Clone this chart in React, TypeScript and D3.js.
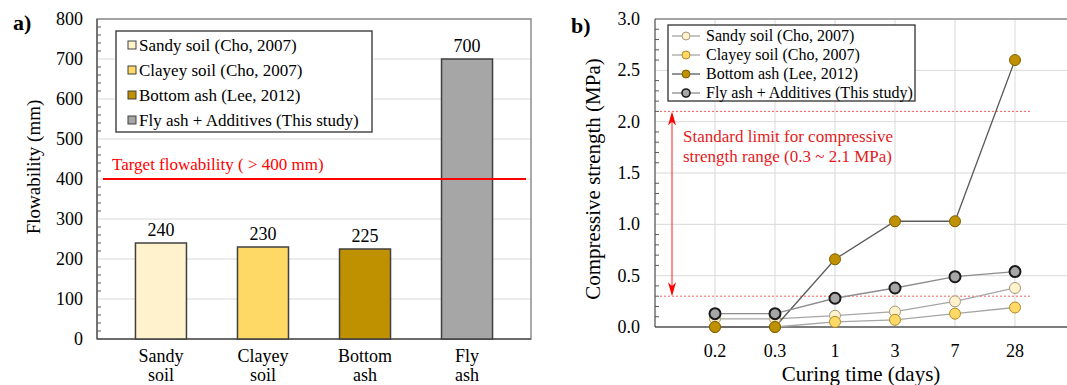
import React from 'react';
import * as d3 from 'd3';

// Flowability (panel a)
const barCategories = ['Sandy soil', 'Clayey soil', 'Bottom ash', 'Fly ash'];
const barLabelLines = [['Sandy', 'soil'], ['Clayey', 'soil'], ['Bottom', 'ash'], ['Fly', 'ash']];
const flowValues = [240, 230, 225, 700];
const flowTicks = [0, 100, 200, 300, 400, 500, 600, 700, 800];
const targetFlow = 400;

// Compressive strength (panel b)
const curingDays = ['0.2', '0.3', '1', '3', '7', '28'];
const sandyStrength = [0.08, 0.08, 0.11, 0.15, 0.25, 0.38];
const clayeyStrength = [0, 0, 0.05, 0.07, 0.13, 0.19];
const bottomStrength = [0, 0, 0.66, 1.03, 1.03, 2.6];
const flyStrength = [0.13, 0.13, 0.28, 0.38, 0.49, 0.54];
const strengthTicks = [0, 0.5, 1.0, 1.5, 2.0, 2.5, 3.0];
const strengthLimits = [0.3, 2.1];

const legendLabels = [
  'Sandy soil (Cho, 2007)',
  'Clayey soil (Cho, 2007)',
  'Bottom ash (Lee, 2012)',
  'Fly ash + Additives (This study)',
];
const fillColors = ['#FFF2CC', '#FFD966', '#BF9000', '#A6A6A6'];
const markerStrokes = ['#a8997a', '#b08a2a', '#7f6000', '#1a1a1a'];
const lineColors = ['#a6a6a6', '#a6a6a6', '#5a5a5a', '#8c8c8c'];

const FONT = '"Liberation Serif", "Times New Roman", serif';
const GRID = '#d9d9d9';
const AXIS = '#595959';
const BORDER = '#8c8c8c';

function FlowPanel() {
  const a = { left: 97, right: 531, top: 19, bottom: 339 };
  const y = d3.scaleLinear().domain([0, 800]).range([a.bottom, a.top]);
  const x = d3.scaleBand().domain(barCategories)
    .range([a.left, a.right]).paddingInner(0.5).paddingOuter(0.377);
  const minor = d3.range(0, 801, 20).filter(v => v % 100 !== 0);

  return (
    <g fontFamily={FONT}>
      {flowTicks.map(t => (
        <line key={'g' + t} x1={a.left} x2={a.right} y1={y(t)} y2={y(t)} stroke={GRID} strokeWidth={1} />
      ))}
      <rect x={a.left} y={a.top} width={a.right - a.left} height={a.bottom - a.top}
        fill="none" stroke={BORDER} strokeWidth={1.5} />
      <line x1={a.left} x2={a.left} y1={a.top} y2={a.bottom} stroke={AXIS} strokeWidth={1.3} />
      <line x1={a.left} x2={a.right} y1={a.bottom} y2={a.bottom} stroke={AXIS} strokeWidth={1.3} />
      {minor.map(t => (
        <line key={'m' + t} x1={a.left} x2={a.left + 4} y1={y(t)} y2={y(t)} stroke={AXIS} strokeWidth={1} />
      ))}
      {flowTicks.map(t => (
        <text key={'t' + t} x={83} y={y(t) + 6} textAnchor="end" fontSize={18} fill="#000">{t}</text>
      ))}
      <text transform={`translate(40,${(a.top + a.bottom) / 2 - 12}) rotate(-90)`} textAnchor="middle"
        fontSize={19} fill="#000">Flowability (mm)</text>
      <text x={13} y={30} fontSize={22} fontWeight="bold" fill="#000">a)</text>

      {barCategories.map((c, i) => (
        <g key={c}>
          <rect x={x(c)} y={y(flowValues[i])} width={x.bandwidth()} height={y(0) - y(flowValues[i])}
            fill={fillColors[i]} stroke="#404040" strokeWidth={1.5} />
          <text x={x(c)! + x.bandwidth() / 2} y={y(flowValues[i]) - 7} textAnchor="middle"
            fontSize={18} fill="#000">{flowValues[i]}</text>
          {barLabelLines[i].map((l, j) => (
            <text key={l} x={x(c)! + x.bandwidth() / 2} y={362 + j * 19} textAnchor="middle"
              fontSize={18} fill="#000">{l}</text>
          ))}
        </g>
      ))}

      <line x1={a.left + 6} x2={a.right - 5} y1={y(targetFlow)} y2={y(targetFlow)} stroke="#ff0000" strokeWidth={2} />
      <text x={112} y={y(targetFlow) - 9} fontSize={17} fill="#ff0000">Target flowability ( &gt; 400 mm)</text>

      <rect x={116} y={31} width={256} height={101} fill="#fff" stroke="#303030" strokeWidth={1.3} />
      {legendLabels.map((l, i) => (
        <g key={l}>
          <rect x={128} y={41 + i * 25} width={8} height={8} fill={fillColors[i]} stroke="#404040" strokeWidth={1} />
          <text x={139} y={51 + i * 25} fontSize={17} fill="#000">{l}</text>
        </g>
      ))}
    </g>
  );
}

function StrengthPanel() {
  const a = { left: 655, right: 1075, top: 19, bottom: 327 };
  const y = d3.scaleLinear().domain([0, 3]).range([a.bottom, a.top]);
  const x = d3.scalePoint().domain(curingDays).range([a.left, a.right]).padding(1);
  const minor = d3.range(0, 31).filter(v => v % 5 !== 0).map(v => v / 10);
  const series = [sandyStrength, clayeyStrength, bottomStrength, flyStrength];
  const line = d3.line<number>().x((_, i) => x(curingDays[i])!).y(d => y(d));
  const ax = 672;
  const yTop = y(strengthLimits[1]);
  const yBot = y(strengthLimits[0]);

  return (
    <g fontFamily={FONT}>
      {strengthTicks.map(t => (
        <line key={'g' + t} x1={a.left} x2={a.right} y1={y(t)} y2={y(t)} stroke={GRID} strokeWidth={1} />
      ))}
      {curingDays.map(d => (
        <line key={'v' + d} x1={x(d)} x2={x(d)} y1={a.top} y2={a.bottom} stroke={GRID} strokeWidth={1} />
      ))}
      <line x1={a.left} x2={a.right} y1={a.top} y2={a.top} stroke={BORDER} strokeWidth={1.5} />
      <line x1={a.left} x2={a.left} y1={a.top} y2={a.bottom} stroke={AXIS} strokeWidth={1.3} />
      <line x1={a.left} x2={a.right} y1={a.bottom} y2={a.bottom} stroke={AXIS} strokeWidth={1.3} />
      {minor.map(t => (
        <line key={'m' + t} x1={a.left} x2={a.left + 4} y1={y(t)} y2={y(t)} stroke={AXIS} strokeWidth={1} />
      ))}
      {strengthTicks.map(t => (
        <text key={'t' + t} x={640} y={y(t) + 6} textAnchor="end" fontSize={18} fill="#000">{t.toFixed(1)}</text>
      ))}
      {curingDays.map(d => (
        <text key={'x' + d} x={x(d)} y={357} textAnchor="middle" fontSize={18} fill="#000">{d}</text>
      ))}
      <text x={861} y={381} textAnchor="middle" fontSize={21} fill="#000">Curing time (days)</text>
      <text transform={`translate(600,${(a.top + a.bottom) / 2 + 6}) rotate(-90)`} textAnchor="middle"
        fontSize={21} fill="#000">Compressive strength (MPa)</text>
      <text x={571} y={33} fontSize={22} fontWeight="bold" fill="#000">b)</text>

      {strengthLimits.map(v => (
        <line key={'l' + v} x1={660} x2={1031} y1={y(v)} y2={y(v)} stroke="#ff5a5a" strokeWidth={1} strokeDasharray="2,2" />
      ))}
      <line x1={ax} x2={ax} y1={yTop + 4} y2={yBot - 4} stroke="#ff2020" strokeWidth={1} />
      <path d={`M${ax},${yTop} L${ax - 4},${yTop + 14} L${ax},${yTop + 10} L${ax + 4},${yTop + 14} Z`} fill="#ff0000" />
      <path d={`M${ax},${yBot} L${ax - 4},${yBot - 14} L${ax},${yBot - 10} L${ax + 4},${yBot - 14} Z`} fill="#ff0000" />
      <text x={683} y={142} fontSize={17} fill="#e41a1c">Standard limit for compressive</text>
      <text x={683} y={162} fontSize={17} fill="#e41a1c">strength range (0.3 ~ 2.1 MPa)</text>

      {series.map((s, i) => (
        <path key={'p' + i} d={line(s)!} fill="none" stroke={lineColors[i]} strokeWidth={1.3} />
      ))}
      {series.map((s, i) => (
        <g key={'c' + i}>
          {s.map((v, j) => (
            <circle key={j} cx={x(curingDays[j])} cy={y(v)} r={5.5} fill={fillColors[i]}
              stroke={markerStrokes[i]} strokeWidth={i === 3 ? 2 : 1} />
          ))}
        </g>
      ))}

      <rect x={668} y={25} width={247} height={76} fill="#fff" stroke="#303030" strokeWidth={1.3} />
      {legendLabels.map((l, i) => (
        <g key={l}>
          <line x1={672} x2={700} y1={36 + i * 19} y2={36 + i * 19} stroke={lineColors[i]} strokeWidth={1.3} />
          <circle cx={686} cy={36 + i * 19} r={4} fill={fillColors[i]} stroke={markerStrokes[i]} strokeWidth={i === 3 ? 1.6 : 1} />
          <text x={706} y={41 + i * 19} fontSize={16} fill="#000">{l}</text>
        </g>
      ))}
    </g>
  );
}

export default function App() {
  return (
    <svg width={1067} height={385} style={{ position: 'absolute', left: 0, top: 0, background: '#fff' }}>
      <rect width={1067} height={385} fill="#fff" />
      <FlowPanel />
      <StrengthPanel />
    </svg>
  );
}
